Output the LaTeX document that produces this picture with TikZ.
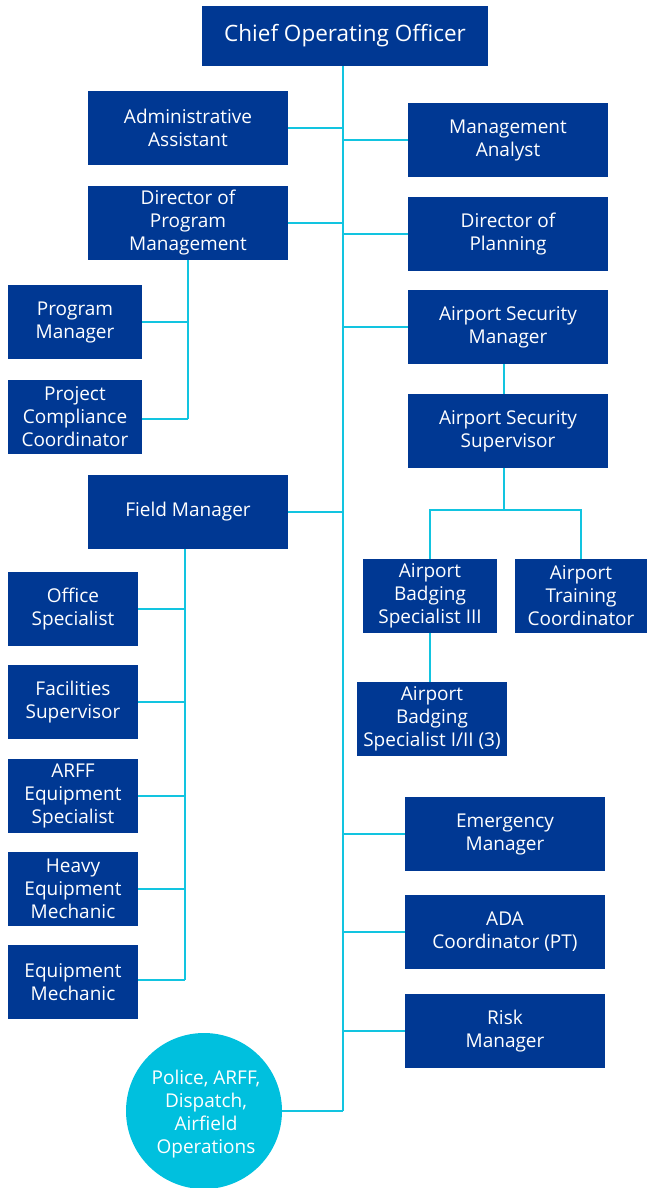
\documentclass[tikz,border=0pt]{standalone}
\usepackage{fontspec}
\setmainfont{Open Sans}
\definecolor{boxblue}{RGB}{0,56,147}
\definecolor{linecyan}{RGB}{18,196,224}
\definecolor{circcyan}{RGB}{0,192,222}
\tikzset{
  orgbox/.style={fill=boxblue, text=white, align=center, inner sep=0pt,
    font=\fontsize{19}{23}\selectfont},
  conn/.style={draw=linecyan, line width=2.6pt},
}
\newcommand{\obox}[6]{%
  \node[orgbox, minimum width={#4-#2}, minimum height={#5-#3}] (#1) at ({(#2+#4)/2},{(#3+#5)/2}) {#6};}
\begin{document}
\begin{tikzpicture}[x=1pt,y=-1pt]
\useasboundingbox (0,0) rectangle (647,1188);
% boxes
\node[orgbox, minimum width=286, minimum height=60, font=\fontsize{22.5}{28}\selectfont] (coo) at (345,36) {Chief Operating Officer};
\obox{aa}{88}{91}{288}{165}{Administrative\\Assistant}
\obox{dpm}{88}{186}{288}{260}{Director of\\Program\\Management}
\obox{ma}{408}{103}{608}{177}{Management\\Analyst}
\obox{dp}{408}{197}{608}{271}{Director of\\Planning}
\obox{asm}{408}{290}{608}{364}{Airport Security\\Manager}
\obox{ass}{408}{394}{608}{468}{Airport Security\\Supervisor}
\obox{pm}{8}{285}{142}{359}{Program\\Manager}
\obox{pcc}{8}{380}{142}{454}{Project\\Compliance\\Coordinator}
\obox{fm}{88}{475}{288}{549}{Field Manager}
\obox{abs}{363}{559}{497}{633}{Airport\\Badging\\Specialist III}
\obox{atc}{515}{559}{647}{633}{Airport\\Training\\Coordinator}
\obox{abso}{357}{682}{507}{756}{Airport\\Badging\\Specialist I/II (3)}
\obox{os}{8}{572}{138}{646}{Office\\Specialist}
\obox{fs}{8}{665}{138}{739}{Facilities\\Supervisor}
\obox{arff}{8}{759}{138}{833}{ARFF\\Equipment\\Specialist}
\obox{hem}{8}{852}{138}{926}{Heavy\\Equipment\\Mechanic}
\obox{em}{8}{945}{138}{1019}{Equipment\\Mechanic}
\obox{emg}{405}{797}{605}{871}{Emergency\\Manager}
\obox{ada}{405}{895}{605}{969}{ADA\\Coordinator (PT)}
\obox{risk}{405}{994}{605}{1068}{Risk\\Manager}
\node[circle, fill=circcyan, minimum size=156, inner sep=0pt] (pol) at (204,1111) {};
\node[text=white, align=center, inner sep=0pt, font=\fontsize{19}{23}\selectfont] (poltext) at (206,1114) {Police, ARFF,\\Dispatch,\\Airfield\\Operations};
% coordinates
\coordinate (mainend) at (343,1111);
\coordinate (mainx) at (343,0);
\coordinate (dpmend) at (188,419);
\coordinate (fmend) at (185,980);
\coordinate (fmtop) at (185,549);
\coordinate (asmx) at (504,0);
\coordinate (split) at (504,510);
\coordinate (absx) at (430,0);
\coordinate (atcx) at (581,0);
% main line
\draw[conn] (coo.south -| mainx) -- (mainend);
\draw[conn] (pol.east) -- (mainend);
\foreach \n in {aa,dpm,fm}{\draw[conn] (\n.east) -- (\n.east -| mainx);}
\foreach \n in {ma,dp,asm,emg,ada,risk}{\draw[conn] (\n.west) -- (\n.west -| mainx);}
% program management subtree
\draw[conn] (dpm.south) -- (dpmend);
\draw[conn] (pm.east) -- (pm.east -| dpmend);
\draw[conn] (pcc.east |- dpmend) -- (dpmend);
% field manager subtree
\draw[conn] (fmtop) -- (fmend);
\foreach \n in {os,fs,arff,hem}{\draw[conn] (\n.east) -- (\n.east -| fmend);}
\draw[conn] (em.east |- fmend) -- (fmend);
% security subtree
\draw[conn] (asm.south -| asmx) -- (ass.north -| asmx);
\draw[conn] (ass.south -| asmx) -- (split);
\draw[conn] (abs.north -| absx) |- (split) -| (atc.north -| atcx);
\draw[conn] (abs.south -| absx) -- (abso.north -| absx);
\end{tikzpicture}
\end{document}
